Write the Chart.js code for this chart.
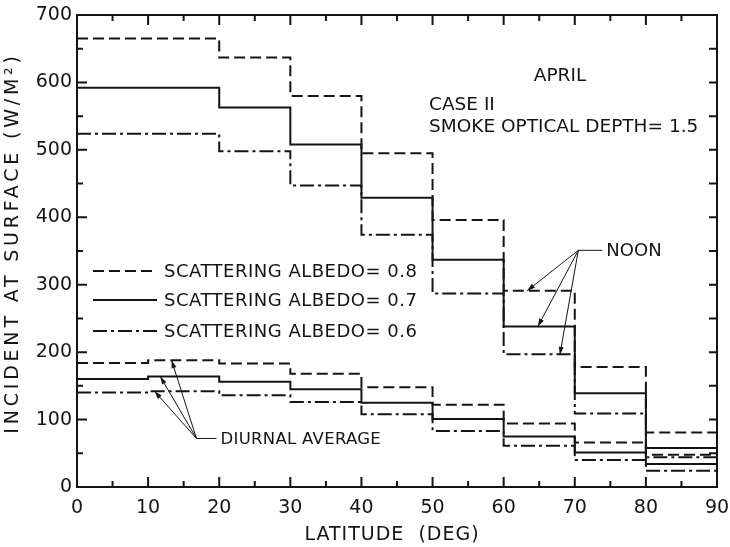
<!DOCTYPE html>
<html>
<head>
<meta charset="utf-8">
<script src="https://cdn.jsdelivr.net/npm/chart.js@4.4.0/dist/chart.umd.min.js"></script>
<style>
  html, body { margin: 0; padding: 0; background: #fff; }
  #wrap { width: 730px; height: 547px; }
</style>
</head>
<body>
<div id="wrap"><canvas id="chart"></canvas></div>
<script>
// ----- Values (one value per 10-degree latitude band) -----
const latEdges = [0, 10, 20, 30, 40, 50, 60, 70, 80, 90];

const noon08 = [665, 665, 637, 580, 495, 396, 291, 178, 81];
const noon07 = [592, 592, 563, 508, 429, 337, 238, 139, 58];
const noon06 = [524, 524, 498, 447, 374, 287, 197, 109, 44];

const diurnal08 = [184, 188, 183, 168, 148, 122, 94, 66, 48];
const diurnal07 = [160, 164, 156, 145, 125, 101, 75, 51, 34];
const diurnal06 = [140, 142, 136, 126, 108, 83, 61, 40, 24];

const xTicks = [0, 10, 20, 30, 40, 50, 60, 70, 80, 90];
const yTicks = [0, 100, 200, 300, 400, 500, 600, 700];

const legendLabels = ['SCATTERING ALBEDO= 0.8', 'SCATTERING ALBEDO= 0.7', 'SCATTERING ALBEDO= 0.6'];

// annotation leaders, in data units (latitude, W/m2)
const noonApex = [70.5, 351];
const noonArrows = [[63.3, 291], [64.8, 238], [67.9, 196]];
const diurnalApex = [16.8, 72];
const diurnalArrows = [[13.3, 188], [11.7, 164], [10.9, 142]];

const DASH = [11, 5];
const DASHDOT = [14, 4, 3, 4];
const INK = '#141414';
const FONT = '"DejaVu Sans", sans-serif';

// steps: each band value holds until the next edge
function steps(vals) {
  const pts = vals.map((v, i) => ({ x: latEdges[i], y: v }));
  pts.push({ x: latEdges[latEdges.length - 1], y: vals[vals.length - 1] });
  return pts;
}

function series(vals, dash) {
  return {
    data: steps(vals),
    borderColor: INK,
    borderWidth: 2,
    borderDash: dash,
    stepped: true,
    pointRadius: 0,
    fill: false
  };
}

function arrow(ctx, x0, y0, x1, y1) {
  ctx.beginPath();
  ctx.moveTo(x0, y0);
  ctx.lineTo(x1, y1);
  ctx.stroke();
  const a = Math.atan2(y1 - y0, x1 - x0);
  const L = 8, W = 2.5;
  ctx.beginPath();
  ctx.moveTo(x1, y1);
  ctx.lineTo(x1 - L * Math.cos(a) + W * Math.sin(a), y1 - L * Math.sin(a) - W * Math.cos(a));
  ctx.lineTo(x1 - L * Math.cos(a) - W * Math.sin(a), y1 - L * Math.sin(a) + W * Math.cos(a));
  ctx.closePath();
  ctx.fill();
}

const decorations = {
  id: 'decorations',
  afterDraw(chart) {
    const { ctx, chartArea: a, scales: { x, y } } = chart;
    const px = v => x.getPixelForValue(v);
    const py = v => y.getPixelForValue(v);
    ctx.save();
    ctx.strokeStyle = INK;
    ctx.fillStyle = INK;

    // frame with inward ticks
    ctx.lineWidth = 2;
    ctx.setLineDash([]);
    ctx.strokeRect(a.left, a.top, a.right - a.left, a.bottom - a.top);
    ctx.beginPath();
    for (let v = 0; v <= 90; v += 5) {
      const len = v % 10 === 0 ? 10 : 6;
      ctx.moveTo(px(v), a.bottom); ctx.lineTo(px(v), a.bottom - len);
      ctx.moveTo(px(v), a.top); ctx.lineTo(px(v), a.top + len);
    }
    for (let v = 0; v <= 700; v += 50) {
      const len = v % 100 === 0 ? 10 : 6;
      ctx.moveTo(a.left, py(v)); ctx.lineTo(a.left + len, py(v));
      ctx.moveTo(a.right, py(v)); ctx.lineTo(a.right - 8, py(v));
    }
    ctx.stroke();

    // axis titles
    ctx.font = '19px ' + FONT;
    ctx.letterSpacing = '1px';
    ctx.textAlign = 'center';
    ctx.textBaseline = 'middle';
    ctx.fillText('LATITUDE  (DEG)', (a.left + a.right) / 2 - 5, 535);
    ctx.save();
    ctx.translate(13, 243);
    ctx.rotate(-Math.PI / 2);
    ctx.letterSpacing = '3.8px';
    ctx.fillText('INCIDENT AT SURFACE (W/M²)', 0, 0);
    ctx.restore();

    // legend
    ctx.textAlign = 'left';
    ctx.letterSpacing = '0.5px';
    ctx.font = '18px ' + FONT;
    ctx.lineWidth = 2;
    const styles = [DASH, [], DASHDOT];
    const rows = [271, 300, 331];
    legendLabels.forEach((lab, i) => {
      ctx.setLineDash(styles[i]);
      ctx.beginPath();
      ctx.moveTo(93, rows[i]); ctx.lineTo(157, rows[i]);
      ctx.stroke();
      ctx.fillText(lab, 164, rows[i] + 1);
    });
    ctx.setLineDash([]);

    // case text
    ctx.font = '18.5px ' + FONT;
    ctx.letterSpacing = '0px';
    ctx.textAlign = 'center';
    ctx.fillText('APRIL', 560, 76);
    ctx.textAlign = 'left';
    ctx.fillText('CASE II', 429, 105);
    ctx.fillText('SMOKE OPTICAL DEPTH= 1.5', 429, 127);

    // leaders
    ctx.lineWidth = 1;
    ctx.font = '18px ' + FONT;
    ctx.beginPath();
    ctx.moveTo(px(noonApex[0]), py(noonApex[1]));
    ctx.lineTo(px(noonApex[0]) + 24, py(noonApex[1]));
    ctx.stroke();
    noonArrows.forEach(p => arrow(ctx, px(noonApex[0]), py(noonApex[1]), px(p[0]), py(p[1])));
    ctx.fillText('NOON', px(noonApex[0]) + 28, py(noonApex[1]) + 1);

    ctx.beginPath();
    ctx.moveTo(px(diurnalApex[0]), py(diurnalApex[1]));
    ctx.lineTo(px(diurnalApex[0]) + 20, py(diurnalApex[1]));
    ctx.stroke();
    diurnalArrows.forEach(p => arrow(ctx, px(diurnalApex[0]), py(diurnalApex[1]), px(p[0]), py(p[1])));
    ctx.font = '16.5px ' + FONT;
    ctx.letterSpacing = '0.3px';
    ctx.fillText('DIURNAL AVERAGE', px(diurnalApex[0]) + 24, py(diurnalApex[1]) + 1);

    ctx.restore();
  }
};

new Chart(document.getElementById('chart'), {
  type: 'line',
  data: {
    datasets: [
      series(noon08, DASH),
      series(noon07, []),
      series(noon06, DASHDOT),
      series(diurnal08, DASH),
      series(diurnal07, []),
      series(diurnal06, DASHDOT)
    ]
  },
  options: {
    responsive: true,
    maintainAspectRatio: false,
    animation: false,
    events: [],
    layout: { padding: { top: 15, right: 13, left: 0, bottom: 0 } },
    plugins: { legend: { display: false }, tooltip: { enabled: false } },
    scales: {
      x: {
        type: 'linear',
        min: 0, max: 90,
        afterFit: s => { s.height = 60; s.paddingLeft = 0; s.paddingRight = 0; },
        afterBuildTicks: s => { s.ticks = xTicks.map(v => ({ value: v })); },
        grid: { display: false, drawTicks: false },
        border: { display: false },
        ticks: { color: INK, padding: 10, maxRotation: 0, font: { family: FONT, size: 19 } }
      },
      y: {
        min: 0, max: 700,
        afterFit: s => { s.width = 77; s.paddingTop = 0; s.paddingBottom = 0; },
        afterBuildTicks: s => { s.ticks = yTicks.map(v => ({ value: v })); },
        grid: { display: false, drawTicks: false },
        border: { display: false },
        ticks: { color: INK, padding: 5, font: { family: FONT, size: 19 } }
      }
    }
  },
  plugins: [decorations]
});
</script>
</body>
</html>
